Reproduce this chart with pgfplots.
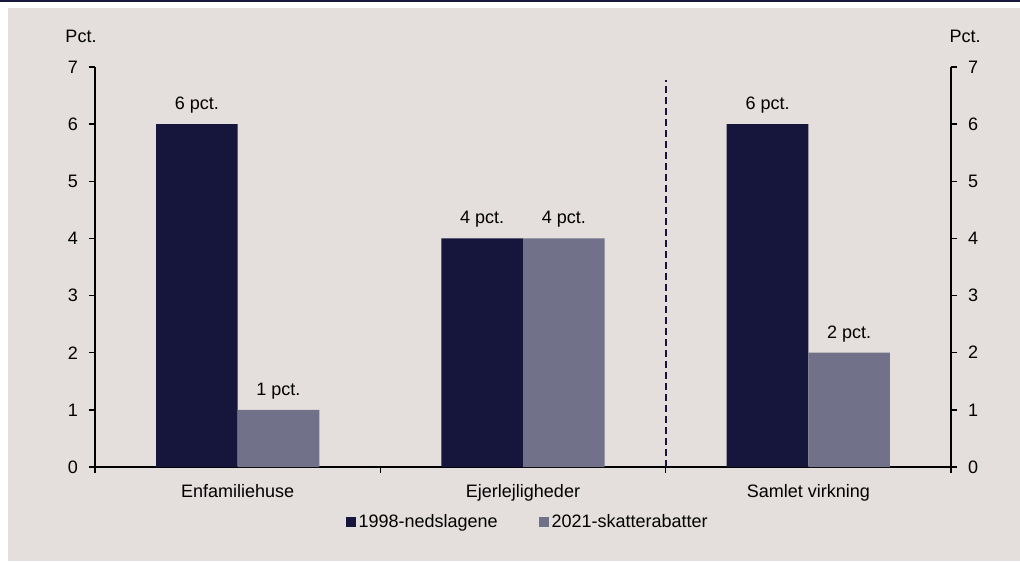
\documentclass[border=0pt]{standalone}
\usepackage{pgfplots}
\pgfplotsset{compat=1.18}
\usepackage{fontspec}
\setmainfont{Liberation Sans}
\definecolor{navy}{HTML}{16163C}
\definecolor{grayb}{HTML}{71718A}
\definecolor{bg}{HTML}{E4DEDC}
\begin{document}
\begin{tikzpicture}[x=1pt,y=1pt]
\useasboundingbox (0,0) rectangle (510,280.5);
\fill[white] (0,0) rectangle (510,280.5);
\fill[bg] (4,0) rectangle (510,276.3);
\fill[navy] (0,279.4) rectangle (510,280.5);
\node[font=\fontsize{9}{10}\selectfont] at (40.5,262.5) {Pct.};
\node[font=\fontsize{9}{10}\selectfont] at (482.5,262.5) {Pct.};
\begin{axis}[
  at={(47.5pt,47pt)}, anchor=south west,
  scale only axis, width=428pt, height=200pt,
  xmin=0, xmax=3, ymin=0, ymax=7,
  /pgf/number format/assume math mode=true,
  axis x line*=bottom, axis y line*=left,
  axis line style={line width=0.7pt, black},
  tick style={line width=0.7pt, black},
  tick align=outside,
  major tick length=3pt, minor tick length=3pt,
  xtick={0.5,1.5,2.5},
  xticklabels={Enfamiliehuse,Ejerlejligheder,Samlet virkning},
  major x tick style={draw=none},
  minor xtick={0,1,2,3},
  ytick={0,1,2,3,4,5,6,7},
  tick label style={font=\fontsize{9}{10}\selectfont},
  yticklabel style={xshift=-2pt},
  xticklabel style={yshift=-2pt},
  legend style={at={(0.506,-0.1375)}, anchor=center, draw=none, fill=none,
    legend columns=2, font=\fontsize{9}{10}\selectfont,
    /tikz/every even column/.append style={column sep=19pt},
    nodes={inner sep=1.5pt}},
  legend image code/.code={\path[#1,draw=none] (0pt,-2.5pt) rectangle (5pt,2.5pt);},
]
\addplot[ybar, bar width=0.286, bar shift=0, fill=navy, draw=none,
  nodes near coords={\pgfmathprintnumber{\pgfplotspointmeta}~pct.},
  nodes near coords style={font=\fontsize{9}{10}\selectfont, anchor=center, yshift=9.5pt, black}]
  coordinates {(0.357,6) (1.357,4) (2.357,6)};
\addlegendentry{1998-nedslagene}
\addplot[ybar, bar width=0.286, bar shift=0, fill=grayb, draw=none,
  nodes near coords={\pgfmathprintnumber{\pgfplotspointmeta}~pct.},
  nodes near coords style={font=\fontsize{9}{10}\selectfont, anchor=center, yshift=9.5pt, black}]
  coordinates {(0.643,1) (1.643,4) (2.643,2)};
\addlegendentry{2021-skatterabatter}
\addplot[navy, line width=1pt, dash pattern=on 3.5pt off 2pt, forget plot]
  coordinates {(2,0) (2,6.77)};
\end{axis}
\begin{axis}[
  at={(47.5pt,47pt)}, anchor=south west,
  scale only axis, width=428pt, height=200pt,
  xmin=0, xmax=3, ymin=0, ymax=7,
  /pgf/number format/assume math mode=true,
  axis x line=none, axis y line*=right,
  axis line style={line width=0.7pt, black},
  tick style={line width=0.7pt, black},
  tick align=outside, major tick length=3pt,
  ytick={0,1,2,3,4,5,6,7},
  tick label style={font=\fontsize{9}{10}\selectfont},
  yticklabel style={xshift=2pt},
]
\addplot[draw=none, forget plot] coordinates {(0,0) (3,7)};
\end{axis}
\end{tikzpicture}
\end{document}
